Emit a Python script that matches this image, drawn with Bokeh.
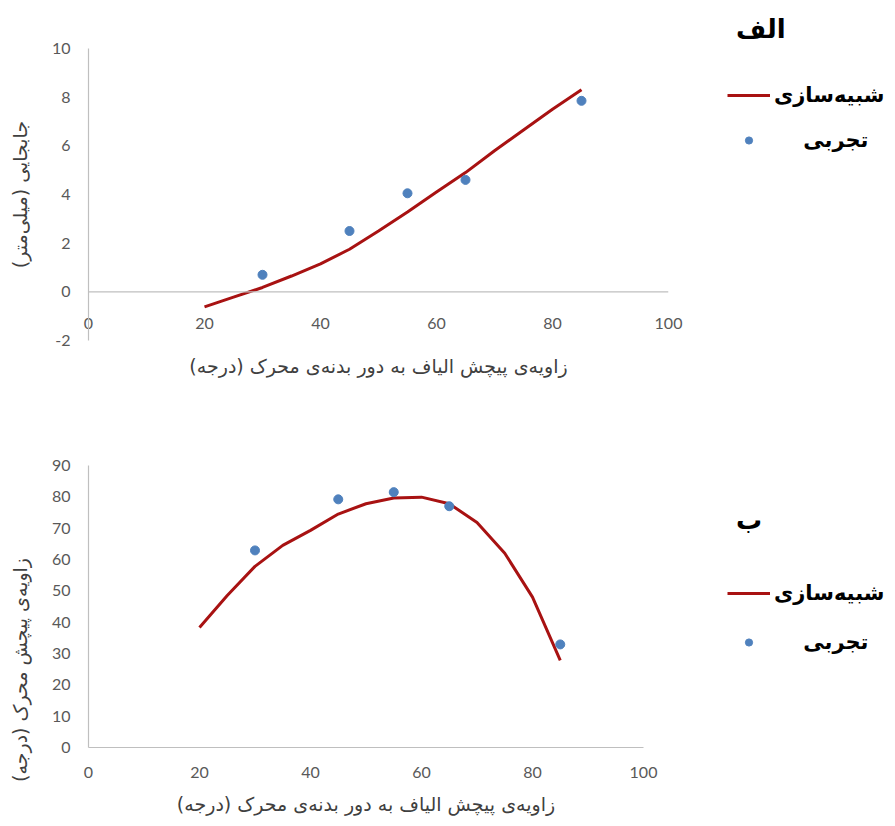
from bokeh.plotting import figure
from bokeh.models import Legend, LegendItem, FixedTicker, Span, PrintfTickFormatter
from bokeh.layouts import column
from bokeh.embed import file_html
from bokeh.resources import INLINE

RLM = "\u200F"
NB = "\u00A0"

# ---- data ----
x_ticks = [0, 20, 40, 60, 80, 100]
y1_ticks = [-2, 0, 2, 4, 6, 8, 10]
y2_ticks = [0, 10, 20, 30, 40, 50, 60, 70, 80, 90]

exp_angle = [30, 45, 55, 65, 85]
exp_disp = [0.7, 2.5, 4.05, 4.6, 7.85]
sim_angle = [20, 25, 30, 35, 40, 45, 50, 55, 60, 65, 70, 75, 80, 85]
sim_disp = [-0.62, -0.22, 0.18, 0.65, 1.15, 1.75, 2.5, 3.28, 4.1, 4.9, 5.8, 6.65, 7.5, 8.3]

exp_twist = [62.9, 79.2, 81.5, 77.0, 32.9]
sim_twist = [38.3, 48.5, 57.8, 64.5, 69.3, 74.5, 77.8, 79.6, 79.9, 77.8, 71.8, 62.0, 48.0, 27.8]

label_sim = "شبیه‌سازی"
label_exp = "تجربی"
title_a = "الف"
title_b = "ب"
xlab = "زاویه‌ی پیچش الیاف به دور بدنه‌ی محرک (درجه)"
ylab1 = "جابجایی (میلی‌متر)"
ylab2 = "زاویه‌ی پیچش محرک (درجه)"

LINE_C = "#A81212"
DOT_C = "#4F81BD"
AXIS_C = "#BFBFBF"
TICK_C = "#595959"
NUM_FONT = "Lato"
FA_FONT = "DejaVu Sans"


def style(p, xt, yt):
    p.outline_line_color = None
    p.grid.visible = False
    for ax in (p.xaxis[0], p.yaxis[0]):
        ax.axis_line_color = AXIS_C
        ax.axis_line_width = 1.2
        ax.major_tick_line_color = None
        ax.minor_tick_line_color = None
        ax.major_label_text_font = NUM_FONT
        ax.major_label_text_font_size = "16px"
        ax.major_label_text_color = TICK_C
        ax.axis_label_text_font = FA_FONT
        ax.axis_label_text_font_size = "19px"
        ax.axis_label_text_font_style = "normal"
        ax.axis_label_text_color = "#404040"
        ax.formatter = PrintfTickFormatter(format="%d")
    p.xaxis[0].ticker = FixedTicker(ticks=xt)
    p.yaxis[0].ticker = FixedTicker(ticks=yt)
    p.yaxis[0].major_label_standoff = 12


def add_legend(p, r_line, r_dot, title, vx, vy, spacing, standoff):
    leg = Legend(
        items=[LegendItem(label=RLM + label_sim + RLM, renderers=[r_line]),
               LegendItem(label=RLM + label_exp + NB * 4 + RLM, renderers=[r_dot])],
        location=(vx, vy),
        title=title,
        title_text_font=FA_FONT,
        title_text_font_size="26px",
        title_text_font_style="bold",
        title_text_color="#000000",
        title_standoff=standoff,
        label_text_font=FA_FONT,
        label_text_font_size="21px",
        label_text_font_style="bold",
        label_text_color="#000000",
        glyph_width=43,
        glyph_height=18,
        label_height=36,
        label_standoff=4,
        spacing=spacing,
        padding=0,
        margin=0,
        border_line_color=None,
        background_fill_alpha=0,
    )
    p.add_layout(leg, "right")


# ---- top chart ----
p1 = figure(frame_width=580, frame_height=292, x_range=(0, 100), y_range=(-2, 10),
            output_backend="svg", toolbar_location=None,
            min_border_left=88, min_border_right=225, min_border_top=48, min_border_bottom=62)
style(p1, x_ticks, y1_ticks)
p1.xaxis[0].axis_line_color = None
p1.xaxis[0].major_label_standoff = -29
p1.xaxis[0].axis_label = RLM + xlab + RLM
p1.xaxis[0].axis_label_standoff = 23
p1.yaxis[0].axis_label = RLM + ylab1 + RLM
p1.yaxis[0].axis_label_standoff = 18
p1.add_layout(Span(location=0, dimension="width", line_color=AXIS_C, line_width=1.2))
l1 = p1.line(sim_angle, sim_disp, line_color=LINE_C, line_width=3)
d1 = p1.scatter(exp_angle, exp_disp, size=9, fill_color=DOT_C, line_color=DOT_C)
add_legend(p1, l1, d1, RLM + title_a + NB + RLM, 59, 182, 9, 33)

# ---- bottom chart ----
p2 = figure(frame_width=555, frame_height=282, x_range=(0, 100), y_range=(0, 90),
            output_backend="svg", toolbar_location=None,
            min_border_left=88, min_border_right=250, min_border_top=63, min_border_bottom=78)
style(p2, x_ticks, y2_ticks)
p2.xaxis[0].axis_label = RLM + xlab + RLM
p2.xaxis[0].axis_label_standoff = 12
p2.xaxis[0].major_label_standoff = 13
p2.yaxis[0].axis_label = RLM + NB * 21 + ylab2 + RLM
p2.yaxis[0].axis_label_standoff = 18
l2 = p2.line(sim_angle, sim_twist, line_color=LINE_C, line_width=3)
d2 = p2.scatter(exp_angle, exp_twist, size=9, fill_color=DOT_C, line_color=DOT_C)
add_legend(p2, l2, d2, RLM + title_b + NB + RLM, 84, 87, 13, 40)

layout = column(p1, p2, spacing=0)
open("out.html", "w").write(file_html(layout, INLINE))
